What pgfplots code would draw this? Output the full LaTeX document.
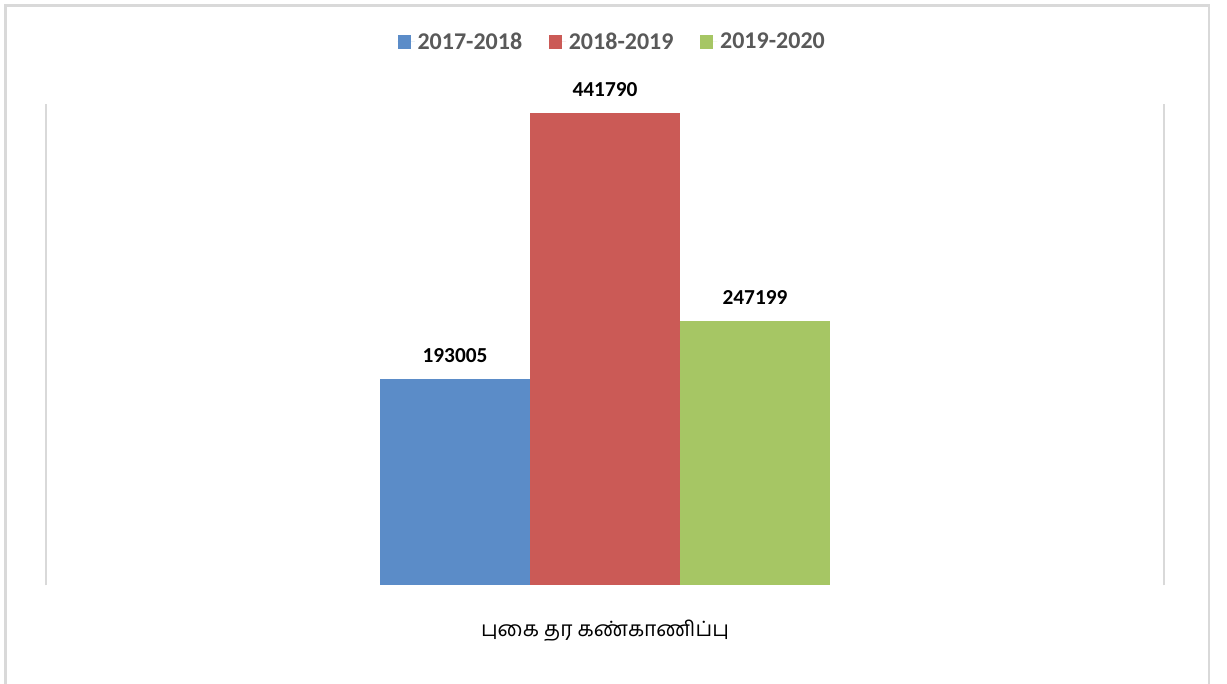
\documentclass[border=0pt]{standalone}
\usepackage{pgfplots}
\pgfplotsset{compat=1.18}
\usepackage{fontspec}
\setmainfont{Carlito}
\newfontfamily\tamilfont[Script=Tamil]{Hind Madurai}
\definecolor{cblue}{RGB}{91,140,200}
\definecolor{cred}{RGB}{203,90,86}
\definecolor{cgreen}{RGB}{166,198,100}
\definecolor{framegray}{RGB}{217,217,217}
\definecolor{textgray}{RGB}{89,89,89}
\begin{document}
\begin{tikzpicture}[x=0.75pt,y=0.75pt]
\path[use as bounding box] (0,0) rectangle (1227,684);
\draw[line width=2pt, color=framegray] (5.5,0) -- (5.5,678.5) -- (1209,678.5) -- (1209,0);
\begin{axis}[
  at={(34.5pt,74.03pt)}, anchor=south west,
  scale only axis, width=838.5pt, height=361pt,
  xmin=-1, xmax=1, ymin=0, ymax=450700,
  ybar=0pt, bar width=112.5pt,
  xtick=\empty, ytick=\empty,
  axis line style={draw=none},
  clip=false,
  point meta=explicit symbolic,
  nodes near coords,
  every node near coord/.append style={font=\fontsize{16}{19}\selectfont\bfseries, text=black, inner sep=0pt, anchor=south, yshift=12.5pt},
  legend columns=3,
  legend style={at={(0.5067,1.1288)}, anchor=center, draw=none, fill=none,
    font=\fontsize{18}{21}\selectfont\bfseries, text=textgray,
    /tikz/every even column/.append style={column sep=18pt}},
  legend image code/.code={\fill[#1] (0pt,-5pt) rectangle (10pt,5pt); \path (0pt,0pt) -- (13pt,0pt);},
]
\addplot[fill=cblue, draw=none] coordinates {(0,193005) [193005]};
\addplot[fill=cred, draw=none] coordinates {(0,441790) [441790]};
\addplot[fill=cgreen, draw=none] coordinates {(0,247199) [247199]};
\legend{2017-2018,2018-2019,2019-2020}
\draw[framegray, line width=1.5pt] (rel axis cs:0,0) -- (rel axis cs:0,1);
\draw[framegray, line width=1.5pt] (rel axis cs:1,0) -- (rel axis cs:1,1);
\end{axis}
\node[font=\tamilfont\fontsize{15.8}{19}\selectfont, text=black] at (605,53) {புகை தர கண்காணிப்பு};
\end{tikzpicture}
\end{document}
